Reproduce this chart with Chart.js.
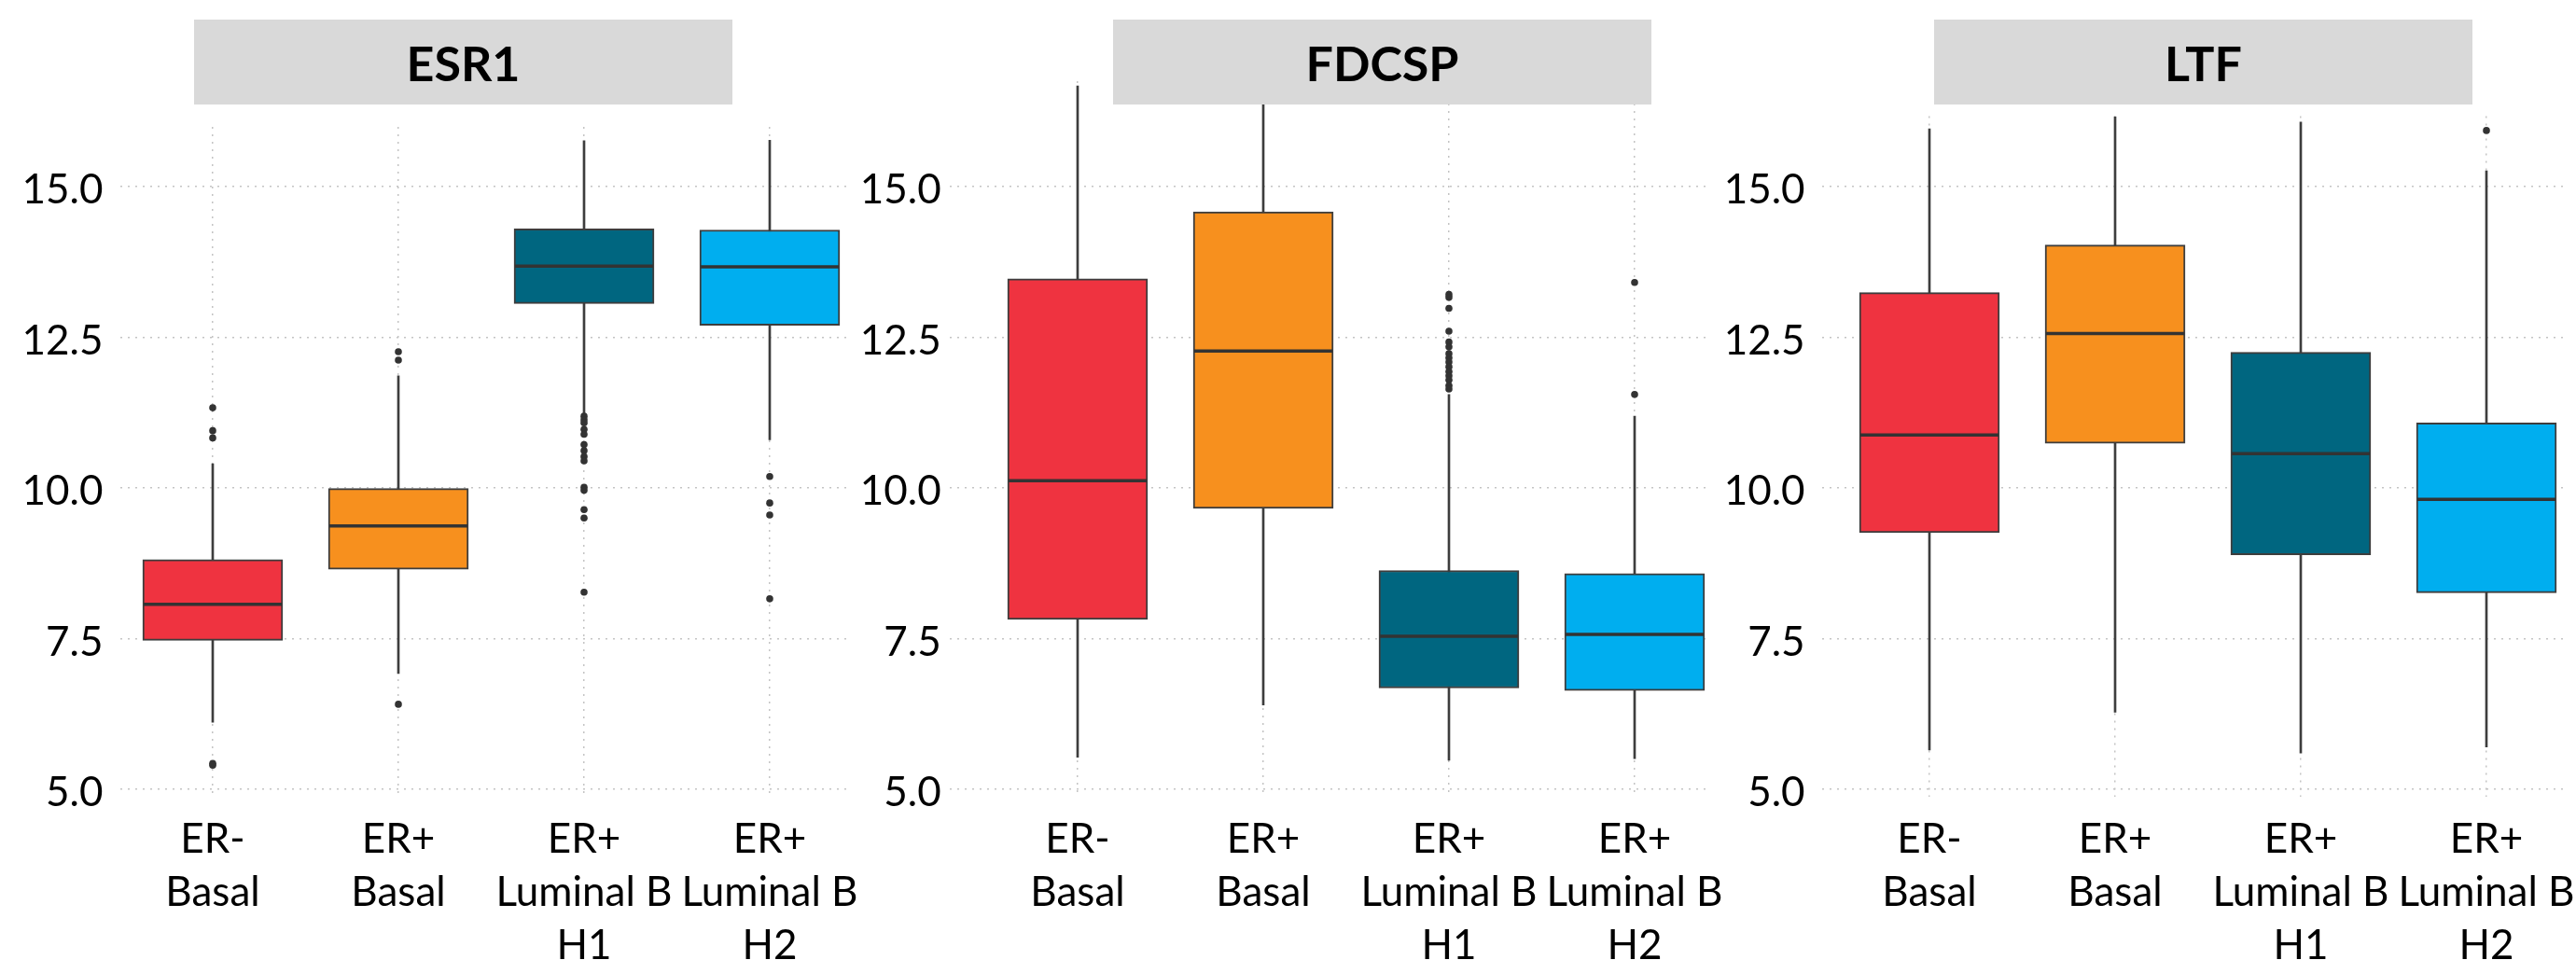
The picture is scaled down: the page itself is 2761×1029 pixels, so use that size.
<!DOCTYPE html>
<html>
<head>
<meta charset="utf-8">
<script src="https://cdn.jsdelivr.net/npm/chart.js@4.4.1/dist/chart.umd.min.js"></script>
<style>
  html, body { margin: 0; padding: 0; background: #ffffff; overflow: hidden; }
  #wrap { position: relative; width: 2761px; height: 1029px; overflow: hidden; }
  #wrap canvas { position: absolute; left: 0; top: 0; }
  .strip {
    position: absolute; top: 21px; height: 91px; width: 577px;
    background: #d9d9d9; color: #000;
    font: bold 52px Lato, sans-serif;
    display: flex; align-items: center; justify-content: center;
    z-index: 5;
  }
</style>
</head>
<body>
<div id="wrap">
  <canvas id="c0" width="2900" height="1029"></canvas>
  <canvas id="c1" width="2900" height="1029"></canvas>
  <canvas id="c2" width="2900" height="1029"></canvas>
</div>
<script>
// categories and gene names
const categories = [['ER-', 'Basal'], ['ER+', 'Basal'], ['ER+', 'Luminal B', 'H1'], ['ER+', 'Luminal B', 'H2']];
const genes = ['ESR1', 'FDCSP', 'LTF'];
const yTicks = [5, 7.5, 10, 12.5, 15];

// ESR1
const esr1Low = [6.11, 6.92, 11.24, 10.80];
const esr1Q1 = [7.47, 8.65, 13.06, 12.70];
const esr1Median = [8.07, 9.37, 13.68, 13.67];
const esr1Q3 = [8.81, 9.99, 14.30, 14.28];
const esr1High = [10.40, 11.86, 15.76, 15.77];
const esr1Outliers = [
  [11.33, 10.95, 10.83, 5.43, 5.40],
  [12.26, 12.12, 6.41],
  [11.19, 11.13, 11.08, 10.97, 10.89, 10.72, 10.62, 10.52, 10.45, 10.01, 9.96, 9.64, 9.50, 8.27],
  [10.19, 9.75, 9.55, 8.16]
];

// FDCSP
const fdcspLow = [5.53, 6.40, 5.48, 5.51];
const fdcspQ1 = [7.82, 9.66, 6.68, 6.64];
const fdcspMedian = [10.12, 12.27, 7.54, 7.57];
const fdcspQ3 = [13.47, 14.58, 8.63, 8.58];
const fdcspHigh = [16.67, 16.75, 11.55, 11.19];
const fdcspOutliers = [
  [],
  [],
  [13.21, 13.16, 12.98, 12.60, 12.42, 12.34, 12.23, 12.16, 12.09, 12.01, 11.93, 11.86, 11.79, 11.70, 11.64],
  [13.41, 11.55]
];

// LTF
const ltfLow = [5.65, 6.28, 5.60, 5.70];
const ltfQ1 = [9.26, 10.74, 8.89, 8.26];
const ltfMedian = [10.88, 12.56, 10.57, 9.81];
const ltfQ3 = [13.24, 14.03, 12.25, 11.08];
const ltfHigh = [15.96, 16.16, 16.07, 15.26];
const ltfOutliers = [[], [], [], [15.93]];

const boxColors = ['#ef3340', '#f7901e', '#006680', '#00aeef'];

const panels = [
  { low: esr1Low, q1: esr1Q1, med: esr1Median, q3: esr1Q3, high: esr1High, out: esr1Outliers },
  { low: fdcspLow, q1: fdcspQ1, med: fdcspMedian, q3: fdcspQ3, high: fdcspHigh, out: fdcspOutliers },
  { low: ltfLow, q1: ltfQ1, med: ltfMedian, q3: ltfQ3, high: ltfHigh, out: ltfOutliers }
];

// layout of each facet (pixels); canvases are wider than the page so the
// last labels are cut by the page edge like in the original
const W = 2900, H = 1029;
const y15 = 200, pxPerUnit = 64.6, yMin = 4.88;
const yMaxes = [15.99, 16.75, 16.17];
const firstCenter = [228, 1155, 2068];
const step = 199;
const xMins = [-0.5, -0.69, -0.58];
const xMaxes = [3.44, 3.4, 3.43];
const labelGap = [18, 9, 18];
const stripLeft = [208, 1193, 2073];
const yAxisW = 120;

const edge = '#3d3d3d';
const fontFam = 'Lato, "Open Sans", sans-serif';

function makePanel(p, k) {
  const top = y15 - (yMaxes[k] - 15) * pxPerUnit;
  const bottom = y15 + (15 - yMin) * pxPerUnit;
  const left = firstCenter[k] + xMins[k] * step;
  const right = firstCenter[k] + xMaxes[k] * step;
  const xAxisH = H - bottom;

  const idx = categories.map((c, i) => i);
  const outPts = [];
  p.out.forEach((arr, i) => arr.forEach(v => outPts.push({ x: i, y: v })));

  new Chart(document.getElementById('c' + k), {
    type: 'bar',
    data: {
      datasets: [
        {
          type: 'line', showLine: false, order: 1,
          data: idx.map(i => ({ x: i, y: p.med[i] })),
          pointStyle: 'line', pointRadius: 74, pointBorderWidth: 3.5,
          pointBorderColor: '#333333', pointBackgroundColor: '#333333'
        },
        {
          type: 'line', showLine: false, order: 2,
          data: outPts,
          pointStyle: 'circle', pointRadius: 3.8, pointBorderWidth: 0,
          pointBackgroundColor: '#333333'
        },
        {
          type: 'bar', order: 3, grouped: false,
          data: idx.map(i => ({ x: i, y: [p.q1[i], p.q3[i]] })),
          backgroundColor: boxColors, borderColor: edge, borderWidth: 2,
          borderSkipped: false, barThickness: 150
        },
        {
          type: 'bar', order: 4, grouped: false,
          data: idx.map(i => ({ x: i, y: [p.low[i], p.high[i]] })),
          backgroundColor: edge, borderWidth: 0, barThickness: 2
        }
      ]
    },
    options: {
      responsive: false,
      animation: false,
      devicePixelRatio: 1,
      layout: { padding: { left: left - yAxisW, right: W - right, top: top, bottom: 0 } },
      plugins: { legend: { display: false }, tooltip: { enabled: false } },
      events: [],
      scales: {
        x: {
          type: 'linear', min: xMins[k], max: xMaxes[k], offset: false,
          afterBuildTicks: s => { s.ticks = idx.map(v => ({ value: v })); },
          afterFit: s => { s.height = xAxisH; },
          grid: { color: '#c4c4c4', lineWidth: 1.5, drawTicks: false, offset: false },
          border: { display: false, dash: [2, 6] },
          ticks: {
            callback: v => categories[v],
            color: '#000000', padding: 17, maxRotation: 0, autoSkip: false,
            font: { family: fontFam, size: 44, lineHeight: 1.3 }
          }
        },
        y: {
          type: 'linear', min: yMin, max: yMaxes[k],
          afterBuildTicks: s => { s.ticks = yTicks.map(v => ({ value: v })); },
          afterFit: s => { s.width = yAxisW; },
          grid: { color: '#c4c4c4', lineWidth: 1.5, drawTicks: false },
          border: { display: false, dash: [2, 6] },
          ticks: {
            callback: v => v.toFixed(1),
            color: '#000000', padding: labelGap[k], labelOffset: 4,
            font: { family: fontFam, size: 44 }
          }
        }
      }
    }
  });

  const strip = document.createElement('div');
  strip.className = 'strip';
  strip.style.left = stripLeft[k] + 'px';
  strip.textContent = genes[k];
  document.getElementById('wrap').appendChild(strip);
}

panels.forEach(makePanel);
</script>
</body>
</html>
